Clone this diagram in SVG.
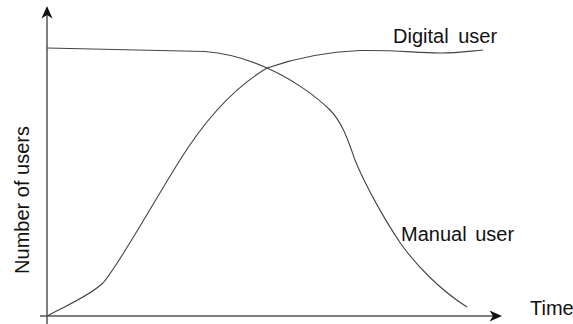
<svg xmlns="http://www.w3.org/2000/svg" width="573" height="324" viewBox="0 0 573 324">
<style>
.axis{stroke:#555;stroke-width:1.5;fill:none}
.head{fill:#111;stroke:none}
.curve{stroke:#444;stroke-width:1.1;fill:none}
.lbl{font-family:"Liberation Sans",Arial,sans-serif;font-size:20px;fill:#111}
</style>
<rect width="573" height="324" fill="#fff"/>
<g id="connectors">
<g id="y-axis">
<line class="axis" x1="47" y1="324" x2="47" y2="14"/>
<polygon class="head" points="47,6 52.5,18.5 47,15 41.5,18.5"/>
</g>
<g id="x-axis">
<line class="axis" x1="40" y1="316" x2="494" y2="316"/>
<polygon class="head" points="502,316 489.5,310.5 493,316 489.5,321.5"/>
</g>
</g>
<g id="digital-user">
<path class="curve" d="M47,316 C65,306 88,297 103,283 C118,266 150,208 180,160 C200,128 230,90 267,68 C290,60 320,52 360,50.5 C400,50 415,53 440,53 C460,53 470,51 483,50"/>
<text class="lbl" x="393" y="42.5" word-spacing="4">Digital user</text>
</g>
<g id="manual-user">
<path class="curve" d="M47,48 L205,51.5 C225,53 245,58 267,68 C290,78 315,95 330,110 C342,122 348,140 355,160 C366,187 386,222 401,244 C416,265 440,290 467,307"/>
<text class="lbl" x="401" y="241" word-spacing="3">Manual user</text>
</g>
<g id="time-label">
<text class="lbl" x="530" y="315">Time</text>
</g>
<g id="y-label">
<text class="lbl" text-anchor="middle" transform="translate(29,200) rotate(-90)">Number of users</text>
</g>
</svg>
